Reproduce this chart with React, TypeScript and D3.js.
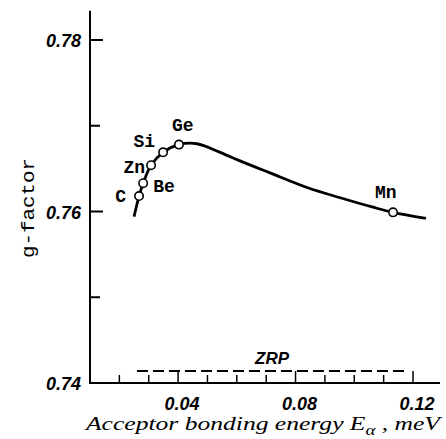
import { useEffect, useRef } from 'react'
import * as d3 from 'd3'

// impurity points (acceptor energy, g-factor)
const impurities = ['C', 'Be', 'Zn', 'Si', 'Ge', 'Mn']
const impurityEnergy = [0.0267, 0.0281, 0.0308, 0.0349, 0.0403, 0.1132]
const impurityG = [0.7618, 0.7633, 0.7654, 0.7669, 0.7678, 0.7599]

// solid theory curve
const curveEnergy = [0.025, 0.0267, 0.0281, 0.0308, 0.0349, 0.0403, 0.0464, 0.0543, 0.0611, 0.0713, 0.0839, 0.0952, 0.1064, 0.1132, 0.1244]
const curveG = [0.7594, 0.7618, 0.7633, 0.7654, 0.7669, 0.7678, 0.7679, 0.7669, 0.7659, 0.7645, 0.7628, 0.7616, 0.7605, 0.7599, 0.7592]

// zero-range potential level
const zrpEnergy = [0.026, 0.118]
const zrpG = [0.7414, 0.7414]

const yTicks = [0.74, 0.75, 0.76, 0.77, 0.78]
const yTickLabels = ['0.74', '', '0.76', '', '0.78']
const xTicks = [0.02, 0.03, 0.04, 0.05, 0.06, 0.07, 0.08, 0.09, 0.1, 0.11, 0.12]
const xLabelTicks = [0.04, 0.08, 0.12]
const xTickLabels = ['0.04', '0.08', '0.12']

// label offsets relative to the point
const labelOffsets: Record<string, [number, number, string]> = {
  C: [-13, 6, 'end'],
  Be: [10, 9, 'start'],
  Zn: [-6, 8, 'end'],
  Si: [-8, -5, 'end'],
  Ge: [-7, -14, 'start'],
  Mn: [-18, -14, 'start'],
}

export default function App() {
  const svgRef = useRef<SVGSVGElement | null>(null)

  useEffect(() => {
    if (!svgRef.current) return
    const width = 446
    const height = 439
    const svg = d3.select(svgRef.current)
    svg.selectAll('*').remove()
    svg.attr('width', width).attr('height', height)

    const x = d3.scaleLinear().domain([0.01, 0.12]).range([90, 413])
    const y = d3.scaleLinear().domain([0.74, 0.78]).range([383, 40])

    const labelFont = '"Liberation Mono", monospace'
    const tickFont = '"Liberation Sans", sans-serif'

    // axes lines
    svg.append('line')
      .attr('x1', x(0.01)).attr('x2', x(0.01))
      .attr('y1', y(0.7834)).attr('y2', y(0.74))
      .attr('stroke', '#000').attr('stroke-width', 2)
    svg.append('line')
      .attr('x1', x(0.01) - 1).attr('x2', x(0.1292))
      .attr('y1', y(0.74)).attr('y2', y(0.74))
      .attr('stroke', '#000').attr('stroke-width', 2)

    // y ticks
    svg.selectAll('.ytick')
      .data(yTicks)
      .join('line')
      .attr('x1', x(0.01)).attr('x2', (d, i) => x(0.01) + (yTickLabels[i] ? 13 : 10))
      .attr('y1', d => y(d)).attr('y2', d => y(d))
      .attr('stroke', '#000').attr('stroke-width', 2)

    svg.selectAll('.ylabel')
      .data(yTicks)
      .join('text')
      .attr('x', 81)
      .attr('y', d => y(d) + 7)
      .attr('text-anchor', 'end')
      .attr('font-family', tickFont)
      .attr('font-style', 'italic')
      .attr('font-weight', 'bold')
      .attr('font-size', '18px')
      .attr('fill', '#000')
      .text((d, i) => yTickLabels[i])

    // x ticks
    svg.selectAll('.xtick')
      .data(xTicks)
      .join('line')
      .attr('x1', d => x(d)).attr('x2', d => x(d))
      .attr('y1', y(0.74))
      .attr('y2', d => y(0.74) - (xLabelTicks.some(t => Math.abs(t - d) < 1e-6) ? 12 : 8))
      .attr('stroke', '#000').attr('stroke-width', 1.5)

    svg.selectAll('.xlabel')
      .data(xLabelTicks)
      .join('text')
      .attr('x', d => x(d) + 4)
      .attr('y', 410)
      .attr('text-anchor', 'middle')
      .attr('font-family', tickFont)
      .attr('font-style', 'italic')
      .attr('font-weight', 'bold')
      .attr('font-size', '18px')
      .attr('fill', '#000')
      .text((d, i) => xTickLabels[i])

    // axis titles
    const xTitle = svg.append('text')
      .attr('x', 86).attr('y', 430)
      .attr('font-family', '"Liberation Serif", serif')
      .attr('font-style', 'italic')
      .attr('font-size', '19px')
      .attr('textLength', 354)
      .attr('lengthAdjust', 'spacingAndGlyphs')
      .attr('fill', '#000')
    xTitle.append('tspan').text('Acceptor bonding energy E')
    xTitle.append('tspan').attr('font-size', '14px').attr('dy', 5).text('α')
    xTitle.append('tspan').attr('dy', -5).text(' , meV')

    svg.append('text')
      .attr('transform', 'translate(34,208) rotate(-90)')
      .attr('text-anchor', 'middle')
      .attr('font-family', labelFont)
      .attr('font-size', '19px')
      .attr('textLength', 100)
      .attr('lengthAdjust', 'spacingAndGlyphs')
      .attr('fill', '#000')
      .text('g-factor')

    // ZRP dashed line
    const line = d3.line<[number, number]>().x(d => x(d[0])).y(d => y(d[1]))
    svg.append('path')
      .attr('d', line(zrpEnergy.map((e, i) => [e, zrpG[i]]) as [number, number][]))
      .attr('fill', 'none')
      .attr('stroke', '#000')
      .attr('stroke-width', 1.8)
      .attr('stroke-dasharray', '11,5')
    svg.append('text')
      .attr('x', x((zrpEnergy[0] + zrpEnergy[1]) / 2))
      .attr('y', y(zrpG[0]) - 7)
      .attr('text-anchor', 'middle')
      .attr('font-family', tickFont)
      .attr('font-style', 'italic')
      .attr('font-weight', 'bold')
      .attr('font-size', '17px')
      .attr('fill', '#000')
      .text('ZRP')

    // main curve
    const curve = d3.line<[number, number]>()
      .x(d => x(d[0])).y(d => y(d[1]))
      .curve(d3.curveCatmullRom.alpha(0.5))
    svg.append('path')
      .attr('d', curve(curveEnergy.map((e, i) => [e, curveG[i]]) as [number, number][]))
      .attr('fill', 'none')
      .attr('stroke', '#000')
      .attr('stroke-width', 2.8)

    // impurity points
    svg.selectAll('.pt')
      .data(impurities)
      .join('circle')
      .attr('cx', (d, i) => x(impurityEnergy[i]))
      .attr('cy', (d, i) => y(impurityG[i]))
      .attr('r', 4.2)
      .attr('fill', '#fff')
      .attr('stroke', '#000')
      .attr('stroke-width', 1.6)

    svg.selectAll('.ptlabel')
      .data(impurities)
      .join('text')
      .attr('x', (d, i) => x(impurityEnergy[i]) + labelOffsets[d][0])
      .attr('y', (d, i) => y(impurityG[i]) + labelOffsets[d][1])
      .attr('text-anchor', d => labelOffsets[d][2])
      .attr('font-family', labelFont)
      .attr('font-weight', 'bold')
      .attr('font-size', '18px')
      .attr('fill', '#000')
      .text(d => d)
  }, [])

  return (
    <svg ref={svgRef} style={{ position: 'absolute', left: 0, top: 0, background: '#fff' }}></svg>
  )
}
